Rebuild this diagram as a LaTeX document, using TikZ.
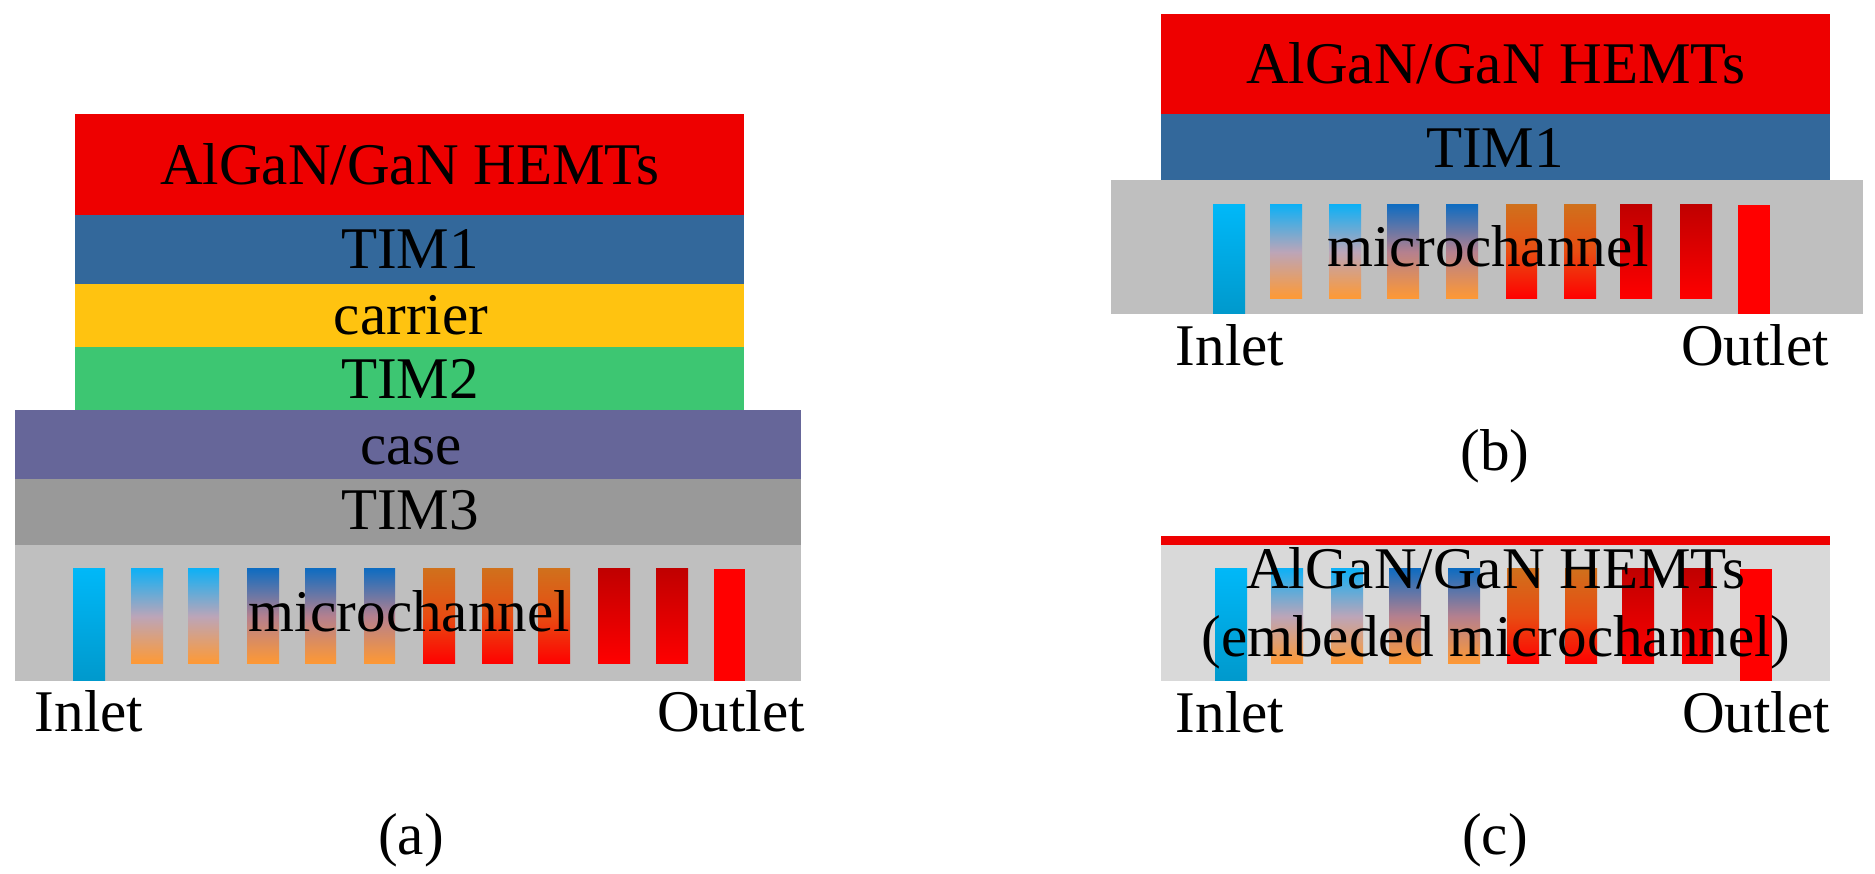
\documentclass[tikz,border=0pt]{standalone}
\usepackage{fontspec}
\setmainfont{Liberation Serif}
\definecolor{hemtred}{HTML}{EE0000}
\definecolor{timblue}{HTML}{33689B}
\definecolor{carrieryellow}{HTML}{FFC310}
\definecolor{timgreen}{HTML}{3DC672}
\definecolor{casepurple}{HTML}{666699}
\definecolor{timgray}{HTML}{999999}
\definecolor{channelgray}{HTML}{BFBFBF}
\definecolor{embedgray}{HTML}{D9D9D9}
\definecolor{inlettop}{HTML}{00B8F8}
\definecolor{inletbot}{HTML}{0099CC}
\definecolor{skytop}{HTML}{0FB0F5}
\definecolor{skymid}{HTML}{BCA5B8}
\definecolor{navytop}{HTML}{106CC0}
\definecolor{navymid}{HTML}{B5808E}
\definecolor{warmorange}{HTML}{FF9933}
\definecolor{rusttop}{HTML}{D0701C}
\definecolor{rustmid}{HTML}{E84C12}
\definecolor{darkred}{HTML}{C00000}
\begin{document}
\begin{tikzpicture}[x=0.01cm,y=-0.01cm,
        txt/.style={anchor=base,inner sep=0pt,font=\fontsize{16.8}{20}\selectfont},
        inbar/.style={top color=inlettop,bottom color=inletbot},
        coolbar/.style={top color=skytop,bottom color=warmorange,middle color=skymid},
        midbar/.style={top color=navytop,bottom color=warmorange,middle color=navymid},
        warmbar/.style={top color=rusttop,bottom color=red,middle color=rustmid},
        hotbar/.style={top color=darkred,bottom color=red}]
    \useasboundingbox (0,0) rectangle (1875,874);

    % (a)
    \fill[hemtred] (75,114) rectangle (744,215);
    \fill[timblue] (75,215) rectangle (744,284);
    \fill[carrieryellow] (75,284) rectangle (744,347);
    \fill[timgreen] (75,347) rectangle (744,410);
    \fill[casepurple] (15,410) rectangle (801,479);
    \fill[timgray] (15,479) rectangle (801,545);
    \fill[channelgray] (15,545) rectangle (801,681);
    \shade[inbar] (73,569) rectangle (105,681);
    \foreach \l/\r in {131/163,188/219}
        \shade[coolbar] (\l,569) rectangle (\r,664);
    \foreach \l/\r in {247/279,305/336,364/395}
        \shade[midbar] (\l,569) rectangle (\r,664);
    \foreach \l/\r in {423/455,482/513,538/570}
        \shade[warmbar] (\l,569) rectangle (\r,664);
    \foreach \l/\r in {598/630,656/688}
        \shade[hotbar] (\l,569) rectangle (\r,664);
    \fill[red] (714,569) rectangle (745,681);
    \node[txt] (hemtA) at (410,185) {AlGaN/GaN HEMTs};
    \node[txt] (timoneA) at (410,269) {TIM1};
    \node[txt] (carrierA) at (411,335) {carrier};
    \node[txt] (timtwoA) at (410,399) {TIM2};
    \node[txt] (caseA) at (411,465) {case};
    \node[txt] (timthreeA) at (410,530) {TIM3};
    \node[txt] (channelA) at (409,632) {microchannel};
    \node[txt] (inletA) at (89,732) {Inlet};
    \node[txt] (outletA) at (731,732) {Outlet};
    \node[txt] (capA) at (411,855) {(a)};

    % (b)
    \fill[hemtred] (1161,14) rectangle (1830,114);
    \fill[timblue] (1161,114) rectangle (1830,180);
    \fill[channelgray] (1111,180) rectangle (1863,314);
    \shade[inbar] (1213,205) rectangle (1245,314);
    \foreach \l/\r in {1270/1302,1329/1361}
        \shade[coolbar] (\l,205) rectangle (\r,299);
    \foreach \l/\r in {1387/1419,1446/1478}
        \shade[midbar] (\l,205) rectangle (\r,299);
    \foreach \l/\r in {1506/1537,1564/1596}
        \shade[warmbar] (\l,205) rectangle (\r,299);
    \foreach \l/\r in {1620/1652,1680/1712}
        \shade[hotbar] (\l,205) rectangle (\r,299);
    \fill[red] (1738,205) rectangle (1770,314);
    \node[txt] (hemtB) at (1496,84) {AlGaN/GaN HEMTs};
    \node[txt] (timoneB) at (1495,168) {TIM1};
    \node[txt] (channelB) at (1488,267) {microchannel};
    \node[txt] (inletB) at (1230,366) {Inlet};
    \node[txt] (outletB) at (1755,366) {Outlet};
    \node[txt] (capB) at (1495,471) {(b)};

    % (c)
    \fill[hemtred] (1161,536) rectangle (1830,545);
    \fill[embedgray] (1161,545) rectangle (1830,681);
    \shade[inbar] (1215,569) rectangle (1247,681);
    \foreach \l/\r in {1271/1303,1331/1363}
        \shade[coolbar] (\l,569) rectangle (\r,664);
    \foreach \l/\r in {1389/1421,1448/1480}
        \shade[midbar] (\l,569) rectangle (\r,664);
    \foreach \l/\r in {1507/1539,1565/1597}
        \shade[warmbar] (\l,569) rectangle (\r,664);
    \foreach \l/\r in {1622/1654,1682/1713}
        \shade[hotbar] (\l,569) rectangle (\r,664);
    \fill[red] (1740,569) rectangle (1772,681);
    \node[txt] (hemtC) at (1496,589) {AlGaN/GaN HEMTs};
    \node[txt] (channelC) at (1496,657) {(embeded microchannel)};
    \node[txt] (inletC) at (1230,733) {Inlet};
    \node[txt] (outletC) at (1756,733) {Outlet};
    \node[txt] (capC) at (1495,855) {(c)};
\end{tikzpicture}
\end{document}
